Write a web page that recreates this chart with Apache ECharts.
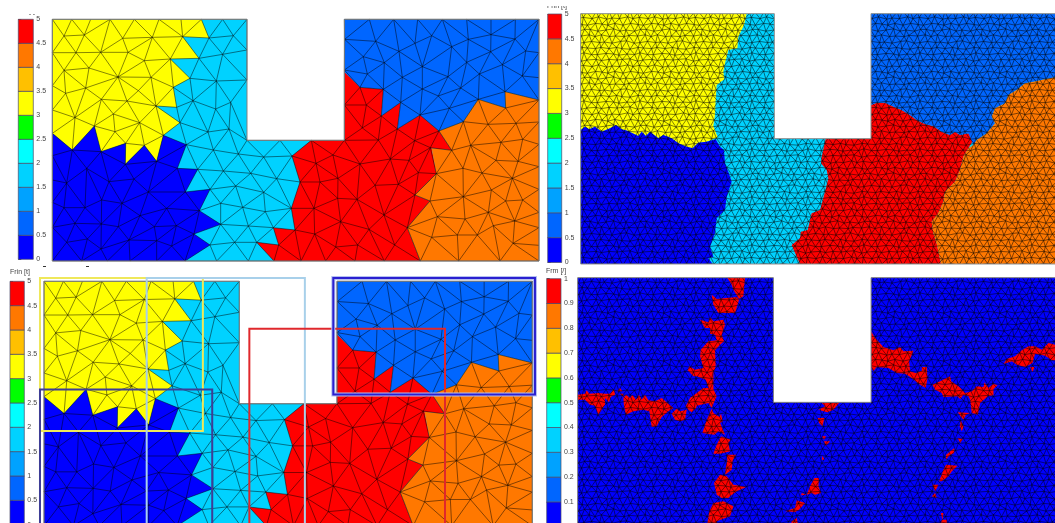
<!DOCTYPE html>
<html>
<head>
<meta charset="utf-8">
<title>Frin / Frm mesh</title>
<style>
  html, body { margin: 0; padding: 0; background: #fff; }
  #chart { width: 1055px; height: 523px; }
</style>
<script src="https://cdn.jsdelivr.net/npm/echarts@6/dist/echarts.min.js"></script>
</head>
<body>
<div id="chart"></div>
<script>
// colour scale, low to high
var scaleColors = ['#0000ff', '#0066ff', '#00a2ff', '#00d2ff', '#00ffff', '#00ff00', '#ffff00', '#ffc000', '#ff7800', '#ff0000']
var frinTicks = [0, 0.5, 1, 1.5, 2, 2.5, 3, 3.5, 4, 4.5, 5]
var frmTicks = [0, 0.1, 0.2, 0.3, 0.4, 0.5, 0.6, 0.7, 0.8, 0.9, 1]

// coarse mesh, nodes (west part, then east part shifted by coarseShift)
var coarseShift = 840
var coarseWestNodes = [
  [157,58],[215,58],[272,58],[330,58],[403,58],[477,58],[543,58],[604,58],[668,58],[741,58],
  [192,108],[253,105],[368,115],[457,112],[548,110],[627,114],[700,107],
  [157,158],[228,158],[302,157],[384,157],[433,182],[511,177],[597,175],[668,163],[741,150],
  [192,211],[267,204],[354,231],[453,232],[570,235],[649,243],[741,240],
  [157,257],[257,264],[304,298],[415,272],[520,262],[579,302],[692,307],
  [197,280],[381,303],[468,318],[530,322],[647,327],
  [157,330],[225,353],[340,342],[283,378],[419,368],[540,368],[624,396],[687,387],[741,421],
  [157,400],[345,395],[490,406],[559,434],[217,450],[303,455],[377,430],[433,436],[376,493],[470,484],
  [157,467],[640,450],[715,462],[791,471],[840,421],
  [260,505],[327,545],[402,537],[532,505],[593,508],[670,513],[752,520],[830,536],
  [157,540],[200,549],[445,576],[556,576],[630,568],[707,558],[791,577],
  [157,607],[192,623],[255,623],[305,600],[366,610],[500,625],[598,632],[662,610],[728,622],[796,635],
  [157,682],[225,670],[304,672],[355,680],[420,647],[463,680],[529,677],[662,673],[745,678],[820,683],
  [200,727],[262,717],[303,747],[387,720],[470,722],[515,738],[582,702],[630,735],[704,727],[770,727],[836,735],
  [157,783],[245,783],[322,783],[390,783],[470,783],[555,783],[650,783],[745,783],[822,783]
]
var coarseEastNodes = [
  [193,58],[268,58],[341,58],[413,58],[487,58],[560,58],[633,58],[706,58],[777,58],
  [194,118],[287,124],[405,130],[455,107],[565,118],[633,104],[705,117],
  [357,154],[515,140],[632,155],[737,153],[777,158],
  [250,170],[313,188],[427,200],[560,187],[667,194],
  [193,210],[262,222],[367,232],[504,230],[598,222],[727,228],[777,233],
  [240,262],[310,268],[427,267],[542,264],[675,275],
  [259,315],[193,315],[362,307],[475,288],[508,325],[595,298],[677,324],[777,300],
  [304,348],[420,345],[550,365],[624,373],[708,370],[777,366],
  [247,384],[352,387],[477,393],[193,421],[94,421],[295,420],
  [404,422],[451,443],[515,451],[572,436],[663,427],[728,418],[777,433],
  [36,468],[108,490],[159,465],[240,492],[331,477],[387,481],[648,481],[714,484],
  [174,535],[120,546],[60,546],[285,556],[355,553],[415,518],[469,521],[549,505],[606,519],[697,535],[777,500],[777,568],
  [173,595],[231,598],[102,625],[34,625],[405,585],[450,603],[550,590],[634,570],[728,600],[677,603],
  [182,665],[312,645],[472,650],[555,657],[625,637],[704,663],[777,637],
  [45,690],[104,702],[267,688],[382,683],[455,712],[532,705],[592,705],[640,677],[777,683],
  [167,741],[233,735],[344,735],[699,730],[777,736],
  [63,783],[137,783],[225,783],[313,783],[421,783],[536,783],[660,783],[777,783]
]
var coarseDomain = [[157,58],[741,58],[741,421],[1033,421],[1033,58],[1617,58],[1617,783],[157,783]]
var coarseYellow = [[157,58],[604,58],[627,114],[548,110],[597,175],[511,177],[570,235],[520,262],[530,322],[468,318],[540,368],[490,406],[470,484],[433,436],[376,493],[377,430],[303,455],[283,378],[217,450],[157,400]]
var coarseBlue = [[157,400],[217,450],[283,378],[303,455],[377,430],[376,493],[433,436],[470,484],[490,406],[559,434],[532,505],[593,508],[556,576],[630,568],[598,632],[662,673],[582,702],[630,735],[555,783],[157,783]]
var coarseRed = [[193,215],[240,262],[310,268],[304,348],[362,307],[352,387],[420,345],[477,393],[515,451],[455,445],[469,521],[405,585],[450,603],[382,683],[421,783],[-18,783],[-70,727],[-4,735],[-20,683],[45,690],[34,625],[60,546],[36,468],[94,421],[193,421]]
var coarseMidBlue = [[193,58],[777,58],[777,300],[675,275],[677,324],[595,298],[550,365],[477,393],[420,345],[352,387],[362,307],[304,348],[310,268],[240,262],[193,215]]
var coarseOrange = [[777,300],[675,275],[677,324],[595,298],[550,365],[477,393],[515,451],[455,445],[469,521],[405,585],[450,603],[382,683],[421,783],[777,783]]

// rectangles drawn over the lower left mesh: x0, y0, x1, y1
var boxYellow = [145, 48, 632, 502]
var boxIndigo = [145, 379, 660, 800]
var boxPale = [464, 48, 937, 800]
var boxRed = [771, 199, 1356, 800]
var boxBlue = [1022, 48, 1625, 394]

// fine mesh partition, upper right
var fineShift = 765
var fineDomain = [[122,41],[703,41],[703,416],[993,416],[993,41],[1571,41],[1571,792],[122,792]]
var fineYellow = [[122,41],[620,41],[612,75],[595,110],[592,145],[565,150],[555,190],[550,215],[553,238],[530,255],[527,300],[525,345],[520,378],[533,412],[500,425],[475,428],[458,445],[440,440],[415,430],[395,415],[370,405],[355,415],[330,395],[318,408],[305,395],[295,408],[278,400],[262,392],[245,388],[228,375],[210,385],[185,395],[165,380],[148,388],[135,380],[122,390]]
var fineBlue = [[122,390],[135,380],[148,388],[165,380],[185,395],[210,385],[228,375],[245,388],[262,392],[278,400],[295,408],[305,395],[318,408],[330,395],[355,415],[370,405],[395,415],[415,430],[440,440],[458,445],[475,428],[500,425],[527,418],[540,440],[552,450],[555,490],[565,515],[575,545],[560,590],[555,630],[530,655],[525,700],[510,740],[520,770],[505,775],[518,792],[122,792]]
var fineRed = [[228,315],[245,308],[270,308],[300,322],[320,330],[345,345],[365,360],[390,372],[415,378],[440,395],[465,405],[480,395],[495,405],[520,400],[535,420],[520,445],[505,470],[495,510],[480,545],[450,575],[445,605],[430,640],[410,665],[415,700],[425,730],[438,792],[15,792],[5,770],[-10,735],[15,715],[18,695],[38,690],[50,640],[75,630],[90,575],[100,535],[95,510],[78,490],[80,470],[92,416],[228,416]]
var fineMidBlue = [[228,41],[806,41],[806,238],[780,232],[750,238],[715,245],[690,250],[665,270],[640,285],[630,310],[600,325],[590,350],[600,370],[575,400],[545,420],[535,435],[520,400],[495,405],[480,395],[465,405],[440,395],[415,378],[390,372],[365,360],[345,345],[320,330],[300,322],[270,308],[245,308],[228,315]]
var fineOrange = [[806,238],[780,232],[750,238],[715,245],[690,250],[665,270],[640,285],[630,310],[600,325],[590,350],[600,370],[575,400],[545,420],[535,435],[520,445],[505,470],[495,510],[480,545],[450,575],[445,605],[430,640],[410,665],[415,700],[425,730],[438,792],[806,792]]

// failed elements, lower right
var frmDomain = [[113,44],[700,44],[700,418],[993,418],[993,44],[1578,44],[1578,791],[113,791]]
var frmWestIslands = [
  [[562,44],[615,44],[612,75],[610,100],[597,108],[580,80],[575,65]],
  [[515,95],[530,108],[590,102],[597,110],[585,150],[535,150],[520,125]],
  [[480,170],[505,178],[510,163],[520,175],[550,170],[555,185],[545,215],[552,235],[540,245],[525,262],[527,310],[520,330],[520,378],[530,400],[522,418],[515,435],[505,420],[470,428],[468,435],[455,448],[445,440],[437,430],[450,405],[490,375],[505,375],[497,350],[470,340],[460,340],[443,322],[448,310],[465,320],[490,315],[480,280],[482,260],[505,235],[530,232],[525,215],[510,212],[510,195],[495,195]],
  [[113,395],[135,392],[140,382],[148,392],[175,390],[195,392],[210,392],[222,378],[225,395],[212,402],[207,418],[195,405],[195,425],[175,455],[165,428],[150,425],[135,410],[113,410]],
  [[232,385],[240,375],[247,385]],
  [[240,392],[250,392],[250,403]],
  [[250,405],[258,395],[270,405],[277,395],[288,410],[297,395],[305,410],[315,395],[325,412],[345,415],[365,405],[400,435],[385,445],[365,462],[350,490],[335,492],[328,445],[310,440],[280,445],[258,455],[252,430]],
  [[395,452],[410,437],[420,445],[440,440],[435,470],[420,475],[405,470]],
  [[515,437],[520,450],[538,462],[543,452],[548,475],[540,480],[555,515],[535,505],[523,515],[487,510],[500,470]],
  [[543,520],[572,530],[565,540],[570,565],[540,572],[520,572],[530,545]],
  [[560,575],[588,575],[578,592],[575,620],[555,635],[558,610],[562,590]],
  [[540,635],[560,640],[580,665],[618,672],[590,685],[570,700],[565,705],[545,705],[530,695],[522,660]],
  [[520,720],[550,715],[580,730],[570,760],[530,775],[530,792],[500,792],[508,745]]
]
var frmEastIslands = [
  [[-30,745],[0,735],[5,712],[30,720],[10,742],[0,747]],
  [[-10,775],[5,765],[10,792],[-15,792]],
  [[228,205],[240,225],[265,252],[295,262],[315,252],[325,265],[355,263],[342,295],[345,325],[362,330],[380,323],[380,312],[395,312],[397,345],[392,375],[370,362],[350,345],[330,332],[305,330],[280,315],[245,312],[235,325],[228,312]],
  [[412,365],[435,355],[465,340],[468,355],[490,370],[510,390],[530,385],[545,370],[565,372],[568,358],[580,375],[595,362],[607,367],[595,378],[595,397],[578,400],[555,420],[548,455],[530,450],[525,410],[520,400],[505,395],[495,408],[487,400],[445,402],[440,390],[420,380]],
  [[488,448],[525,450],[512,455],[505,470],[495,458]],
  [[497,472],[505,490],[500,505],[494,490]],
  [[488,525],[503,528],[495,540]],
  [[453,575],[478,555],[477,570],[462,578],[452,590]],
  [[453,605],[487,608],[470,625],[460,640],[440,655],[432,655],[445,620]],
  [[412,665],[430,665],[420,685]],
  [[410,700],[420,690],[425,705]],
  [[80,420],[132,420],[115,440],[97,448],[70,440],[90,430]],
  [[68,465],[88,465],[82,490],[72,480]],
  [[80,520],[93,520],[87,530]],
  [[87,535],[105,535],[92,548]],
  [[82,578],[88,590],[80,590]],
  [[58,645],[72,645],[70,670],[78,690],[60,695],[50,690],[35,695],[45,670]],
  [[20,690],[35,695],[18,697]],
  [[635,288],[660,280],[680,262],[700,250],[720,250],[740,260],[760,240],[780,245],[813,250],[813,292],[770,292],[750,278],[720,272],[712,300],[690,312],[665,305],[650,295],[625,303]],
  [[705,312],[718,312],[712,327]],
  [[437,750],[445,750],[442,770]],
  [[440,770],[455,770],[455,792],[435,792]]
]

function shifted(pts, dx) {
  return pts.map(function (p) { return [p[0] + dx, p[1]] })
}

// Delaunay over the read nodes, so the element edges don't have to be typed one by one
function triangulate(pts) {
  var n = pts.length
  var all = pts.concat([[-20000, -20000], [40000, -20000], [10000, 40000]])
  var tris = [[n, n + 1, n + 2]]
  function inCircle(t, p) {
    var a = all[t[0]], b = all[t[1]], c = all[t[2]]
    var ax = a[0] - p[0], ay = a[1] - p[1]
    var bx = b[0] - p[0], by = b[1] - p[1]
    var cx = c[0] - p[0], cy = c[1] - p[1]
    var det = (ax * ax + ay * ay) * (bx * cy - cx * by) - (bx * bx + by * by) * (ax * cy - cx * ay) + (cx * cx + cy * cy) * (ax * by - bx * ay)
    var orient = (b[0] - a[0]) * (c[1] - a[1]) - (b[1] - a[1]) * (c[0] - a[0])
    return orient > 0 ? det > 0 : det < 0
  }
  for (var i = 0; i < n; i++) {
    var keep = [], edges = {}
    tris.forEach(function (t) {
      if (inCircle(t, all[i])) {
        [[t[0], t[1]], [t[1], t[2]], [t[2], t[0]]].forEach(function (e) {
          var k = Math.min(e[0], e[1]) + '_' + Math.max(e[0], e[1])
          edges[k] = edges[k] ? null : e
        })
      } else keep.push(t)
    })
    Object.keys(edges).forEach(function (k) {
      if (edges[k]) keep.push([edges[k][0], edges[k][1], i])
    })
    tris = keep
  }
  return tris.filter(function (t) { return t[0] < n && t[1] < n && t[2] < n })
}

var coarseNodes = coarseWestNodes.concat(shifted(coarseEastNodes, coarseShift))
// every element edge once, so shared edges are not stroked twice
var coarseEdges = (function () {
  var seen = {}, out = []
  triangulate(coarseNodes).forEach(function (t) {
    var p = coarseNodes[t[0]], q = coarseNodes[t[1]], r = coarseNodes[t[2]]
    var cx = (p[0] + q[0] + r[0]) / 3, cy = (p[1] + q[1] + r[1]) / 3
    var area = Math.abs((q[0] - p[0]) * (r[1] - p[1]) - (q[1] - p[1]) * (r[0] - p[0]))
    if (area < 200 || (cx > 741 && cx < 1033 && cy < 421)) return
    ;[[t[0], t[1]], [t[1], t[2]], [t[2], t[0]]].forEach(function (e) {
      var k = Math.min(e[0], e[1]) + '_' + Math.max(e[0], e[1])
      if (!seen[k]) {
        seen[k] = 1
        out.push([coarseNodes[e[0]], coarseNodes[e[1]]])
      }
    })
  })
  return out
})()

// fine meshes have thousands of elements, they are drawn as a repeated texture
var tileCols = 8, tileRows = 8, tileDx = 7, tileDy = 6
var tileJitter = [
  [1,-1],[-2,1],[0,2],[2,-1],[-1,0],[1,1],[-2,-1],[0,1],
  [-1,2],[1,0],[2,1],[-1,-2],[0,1],[-2,1],[1,-1],[2,0],
  [2,0],[-1,-1],[0,-2],[1,2],[-2,0],[2,-1],[-1,1],[0,-1],
  [0,1],[2,-2],[-1,1],[-2,-1],[1,1],[0,-2],[2,2],[-1,0],
  [-2,-1],[0,2],[1,-1],[2,1],[-1,2],[1,-1],[0,0],[-2,2],
  [1,2],[-1,0],[2,2],[0,-1],[-2,-1],[-1,2],[1,0],[2,-2],
  [-1,0],[2,1],[-2,-1],[1,0],[2,-2],[0,1],[-1,-2],[1,1],
  [2,-1],[0,-2],[1,2],[-1,1],[0,-1],[2,1],[-2,0],[-1,2]
]
function meshTile(alpha) {
  var w = tileCols * tileDx, h = tileRows * tileDy
  var cv = document.createElement('canvas')
  cv.width = w
  cv.height = h
  var ctx = cv.getContext('2d')
  ctx.strokeStyle = 'rgba(0,0,0,' + alpha + ')'
  ctx.lineWidth = 0.7
  function pos(r, c) {
    var j = tileJitter[((r + tileRows) % tileRows) * tileCols + ((c + tileCols) % tileCols)]
    return [c * tileDx + (r % 2 ? tileDx / 2 : 0) + j[0] * 0.6, r * tileDy + j[1] * 0.6]
  }
  function edge(a, b) {
    [-w, 0, w].forEach(function (ox) {
      [-h, 0, h].forEach(function (oy) {
        ctx.beginPath()
        ctx.moveTo(a[0] + ox, a[1] + oy)
        ctx.lineTo(b[0] + ox, b[1] + oy)
        ctx.stroke()
      })
    })
  }
  for (var r = 0; r < tileRows; r++) {
    for (var c = 0; c < tileCols; c++) {
      var p = pos(r, c)
      edge(p, pos(r, c + 1))
      // odd rows sit half a step to the right
      var odd = r % 2
      edge(p, pos(r + 1, odd ? c : c - 1))
      edge(p, pos(r + 1, odd ? c + 1 : c))
    }
  }
  return cv
}
var fineTile = meshTile(0.72)

var option = { animation: false, backgroundColor: '#fff', grid: [], xAxis: [], yAxis: [], series: [], graphic: [] }

// outerBoundsMode none: the two lower and the right panels run past the picture edge
function addGrid(box, xr, yr) {
  option.grid.push({ left: box[0], top: box[1], width: box[2], height: box[3], show: false, outerBoundsMode: 'none' })
  var i = option.grid.length - 1
  option.xAxis.push({ type: 'value', gridIndex: i, min: xr[0], max: xr[1], show: false })
  option.yAxis.push({ type: 'value', gridIndex: i, min: yr[0], max: yr[1], inverse: true, show: false })
  return i
}

function addShapes(i, shapes) {
  // shapes: {pts, fill, stroke, width, open}
  option.series.push({
    type: 'custom',
    xAxisIndex: i,
    yAxisIndex: i,
    silent: true,
    data: shapes.map(function (s, k) { return [k] }),
    renderItem: function (params, api) {
      var s = shapes[params.dataIndex]
      return {
        type: s.open ? 'polyline' : 'polygon',
        shape: { points: s.pts.map(function (p) { return api.coord(p) }) },
        style: { fill: s.fill || 'none', stroke: s.stroke || 'none', lineWidth: s.width || 0 }
      }
    }
  })
}

function addColorBar(box, ticks, step) {
  var i = option.grid.length
  option.grid.push({ left: box[0], top: box[1], width: box[2], height: box[3], show: false, outerBoundsMode: 'none' })
  option.xAxis.push({ type: 'value', gridIndex: i, min: 0, max: 1, show: false })
  option.yAxis.push({
    type: 'value',
    gridIndex: i,
    position: 'right',
    min: ticks[0],
    max: ticks[ticks.length - 1],
    interval: step,
    splitLine: { show: false },
    axisLine: { show: false },
    axisTick: { show: true, length: 3, lineStyle: { color: '#555', width: 1 } },
    axisLabel: { color: '#444', fontSize: 7, margin: 3, fontFamily: 'Liberation Sans' }
  })
  var cells = scaleColors.map(function (c, k) {
    return {
      pts: [[0, ticks[k]], [1, ticks[k]], [1, ticks[k + 1]], [0, ticks[k + 1]]],
      fill: c, stroke: '#4a4a6a', width: 0.7
    }
  })
  addShapes(i, cells)
}

function rectPts(b) {
  return [[b[0], b[1]], [b[2], b[1]], [b[2], b[3]], [b[0], b[3]]]
}

function coarseLayers() {
  var east = function (p) { return shifted(p, coarseShift) }
  var mesh = coarseEdges.map(function (e) {
    return { pts: e, open: true, stroke: 'rgba(0,0,0,0.8)', width: 0.6 }
  })
  return [
    { pts: coarseDomain, fill: scaleColors[3] },
    { pts: coarseYellow, fill: scaleColors[6] },
    { pts: coarseBlue, fill: scaleColors[0] },
    { pts: east(coarseRed), fill: scaleColors[9] },
    { pts: east(coarseMidBlue), fill: scaleColors[1] },
    { pts: east(coarseOrange), fill: scaleColors[8] }
  ].concat(mesh, [{ pts: coarseDomain, stroke: '#808080', width: 1 }])
}

// upper left
var g1 = addGrid([52.33, 19.33, 486.67, 241.67], [157, 1617], [58, 783])
addShapes(g1, coarseLayers())
addColorBar([18.3, 19.3, 15, 240], frinTicks, 0.5)

// lower left, same mesh plus the boxes
var g3 = addGrid([44, 281.3, 488.3, 244.5], [157, 1617], [58, 783])
addShapes(g3, coarseLayers().concat([
  { pts: rectPts(boxYellow), stroke: '#efe85a', width: 2 },
  { pts: rectPts(boxIndigo), stroke: '#3d3d96', width: 2 },
  { pts: rectPts(boxPale), stroke: '#a8d0ea', width: 2 },
  { pts: rectPts(boxRed), stroke: '#e0282c', width: 2 },
  { pts: rectPts(boxBlue), stroke: '#b4c0f0', width: 4 },
  { pts: rectPts(boxBlue), stroke: '#2a1fd0', width: 2 }
]))
addColorBar([10, 281.3, 14.3, 243.3], frinTicks, 0.5)

// upper right
var g2 = addGrid([580.67, 13.67, 483, 250.33], [122, 1571], [41, 792])
addShapes(g2, [
  { pts: fineDomain, fill: scaleColors[3] },
  { pts: fineYellow, fill: scaleColors[6] },
  { pts: fineBlue, fill: scaleColors[0] },
  { pts: shifted(fineRed, fineShift), fill: scaleColors[9] },
  { pts: shifted(fineMidBlue, fineShift), fill: scaleColors[1] },
  { pts: shifted(fineOrange, fineShift), fill: scaleColors[8] },
  { pts: fineDomain, fill: { image: fineTile, repeat: 'repeat' } },
  { pts: fineDomain, stroke: '#909090', width: 1 }
])
addColorBar([547.7, 14, 14, 248.5], frinTicks, 0.5)

// lower right
var g4 = addGrid([577.67, 277.67, 488.5, 249], [113, 1578], [44, 791])
var frmLayers = [{ pts: frmDomain, fill: scaleColors[0] }]
frmWestIslands.forEach(function (p) { frmLayers.push({ pts: p, fill: scaleColors[9] }) })
frmEastIslands.forEach(function (p) { frmLayers.push({ pts: shifted(p, fineShift), fill: scaleColors[9] }) })
frmLayers.push({ pts: frmDomain, fill: { image: fineTile, repeat: 'repeat' } })
frmLayers.push({ pts: frmDomain, stroke: '#808080', width: 1 })
addShapes(g4, frmLayers)
addColorBar([546.7, 278.7, 14.3, 248], frmTicks, 0.1)

// legend titles, the two on top are cut by the picture edge
option.graphic = [
  { type: 'text', left: 15, top: 8, z: 10, style: { text: 'Frin [t]', fontSize: 7, fill: '#444', fontFamily: 'Liberation Sans' } },
  { type: 'rect', left: 0, top: 0, z: 11, shape: { width: 52, height: 14 }, style: { fill: '#fff' } },
  { type: 'text', left: 547, top: 3, z: 10, style: { text: 'Frin [t]', fontSize: 7, fill: '#444', fontFamily: 'Liberation Sans' } },
  { type: 'rect', left: 540, top: 0, z: 11, shape: { width: 38, height: 6 }, style: { fill: '#fff' } },
  { type: 'text', left: 10, top: 269, z: 10, style: { text: 'Frin [t]', fontSize: 7, fill: '#444', fontFamily: 'Liberation Sans' } },
  { type: 'text', left: 546, top: 268, z: 10, style: { text: 'Frm [/]', fontSize: 7, fill: '#444', fontFamily: 'Liberation Sans' } },
  { type: 'rect', left: 43, top: 266, z: 10, shape: { width: 3, height: 1 }, style: { fill: '#333' } },
  { type: 'rect', left: 86, top: 266, z: 10, shape: { width: 3, height: 1 }, style: { fill: '#333' } }
]

var myChart = echarts.init(document.getElementById('chart'))
myChart.setOption(option)
window.addEventListener('resize', function () { myChart.resize() })
</script>
</body>
</html>
